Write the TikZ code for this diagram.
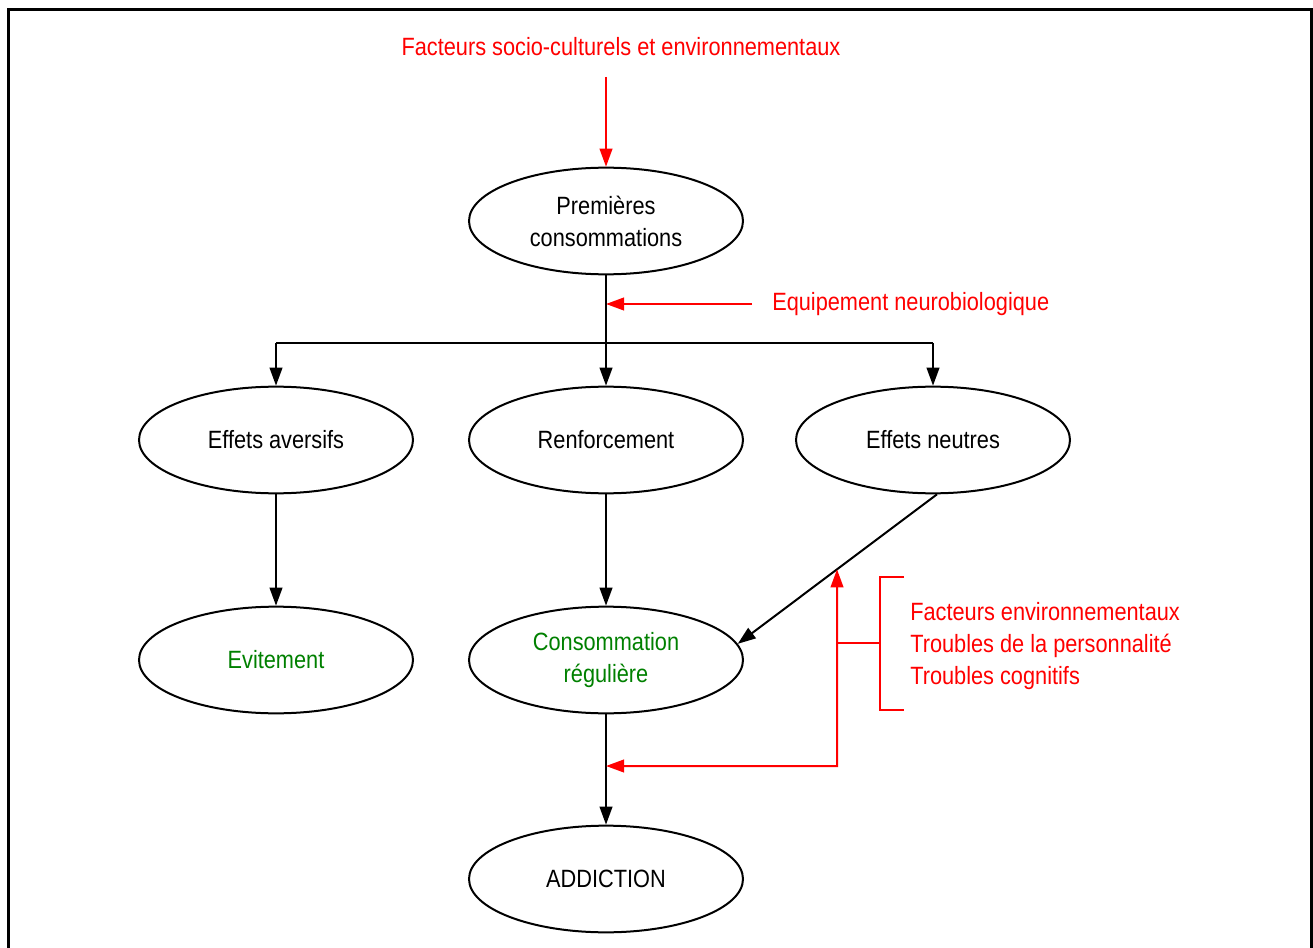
\documentclass[tikz,border=0pt]{standalone}
\usepackage{fontspec}
\setmainfont[FakeStretch=0.87]{Liberation Sans}
\usetikzlibrary{arrows.meta,shapes.geometric,intersections}
\definecolor{dred}{RGB}{255,0,0}
\definecolor{dgreen}{RGB}{0,128,0}
\begin{document}
\begin{tikzpicture}[x=0.75pt,y=-0.75pt,
  every node/.style={font=\fontsize{18.75}{24}\selectfont},
  ell/.style={shape=ellipse,draw=black,line width=1.5pt,minimum width=205.5pt,minimum height=80pt,inner sep=0pt,align=center},
  arr/.style={line width=1.5pt,-{Triangle[length=13.5pt,width=9.5pt]}},
  redarr/.style={draw=dred,line width=1.5pt,-{Triangle[length=13.5pt,width=9.5pt]}},
  redline/.style={draw=dred,line width=1.5pt},
  redtxt/.style={text=dred,inner sep=0pt}]
\useasboundingbox (0,0) rectangle (1313,948);
% frame
\draw[line width=2.25pt] (8.7,1000) -- (8.7,9.3) -- (1311.5,9.3) -- (1311.5,1000);

% nodes
\node[redtxt] (soc) at (621,47) {Facteurs socio-culturels et environnementaux};
\node[ell] (prem) at (606,221) {Premières\\consommations};
\node[redtxt,anchor=west] (eq) at (772,304) {Equipement neurobiologique};
\node[ell] (aver) at (276,440) {Effets aversifs};
\node[ell] (renf) at (606,440) {Renforcement};
\node[ell] (neut) at (933,440) {Effets neutres};
\node[ell,text=dgreen] (evit) at (276,660) {Evitement};
\node[ell,text=dgreen] (cons) at (606,660) {Consommation\\régulière};
\node[ell] (addi) at (606,879) {ADDICTION};
\node[redtxt,anchor=west,align=left] (tf) at (910,646) {Facteurs environnementaux\\Troubles de la personnalité\\Troubles cognitifs};

% coordinates
\coordinate (socb) at (606,77);
\coordinate (br) at (606,343);
\coordinate (eqs) at (752,304);
\coordinate (rb) at (837,766);
\coordinate (stub) at (837,643);
\coordinate (bt) at (880,577);
\coordinate (bb) at (880,710);

% top red arrow
\draw[redarr] (socb -| prem.north) -- (prem.north);
% equipement
\draw[redarr] (eqs) -- (eqs -| prem.south);
% main black arrows
\draw[arr] (prem.south) -- (renf.north);
\draw[line width=1.5pt] (br -| aver.north) -- (br -| neut.north);
\draw[arr] (br -| aver.north) -- (aver.north);
\draw[arr] (br -| neut.north) -- (neut.north);
\draw[arr] (aver.south) -- (evit.north);
\draw[arr] (renf.south) -- (cons.north);
\draw[arr,name path=diag] ([xshift=3pt]neut.south) -- (cons.7);
\draw[arr] (cons.south) -- (addi.north);

% red feedback
\path[name path=vr] (837,500) -- (837,800);
\path[name intersections={of=diag and vr,by=X}];
\draw[redline,{Triangle[length=13.5pt,width=9.5pt]}-{Triangle[length=13.5pt,width=9.5pt]}] (X) -- (rb) -- (rb -| cons.south);
\draw[redline] (stub) -- (stub -| bt);
\draw[redline] ([xshift=18pt]bt) -- (bt) -- (bb) -- ([xshift=18pt]bb);
\end{tikzpicture}
\end{document}
